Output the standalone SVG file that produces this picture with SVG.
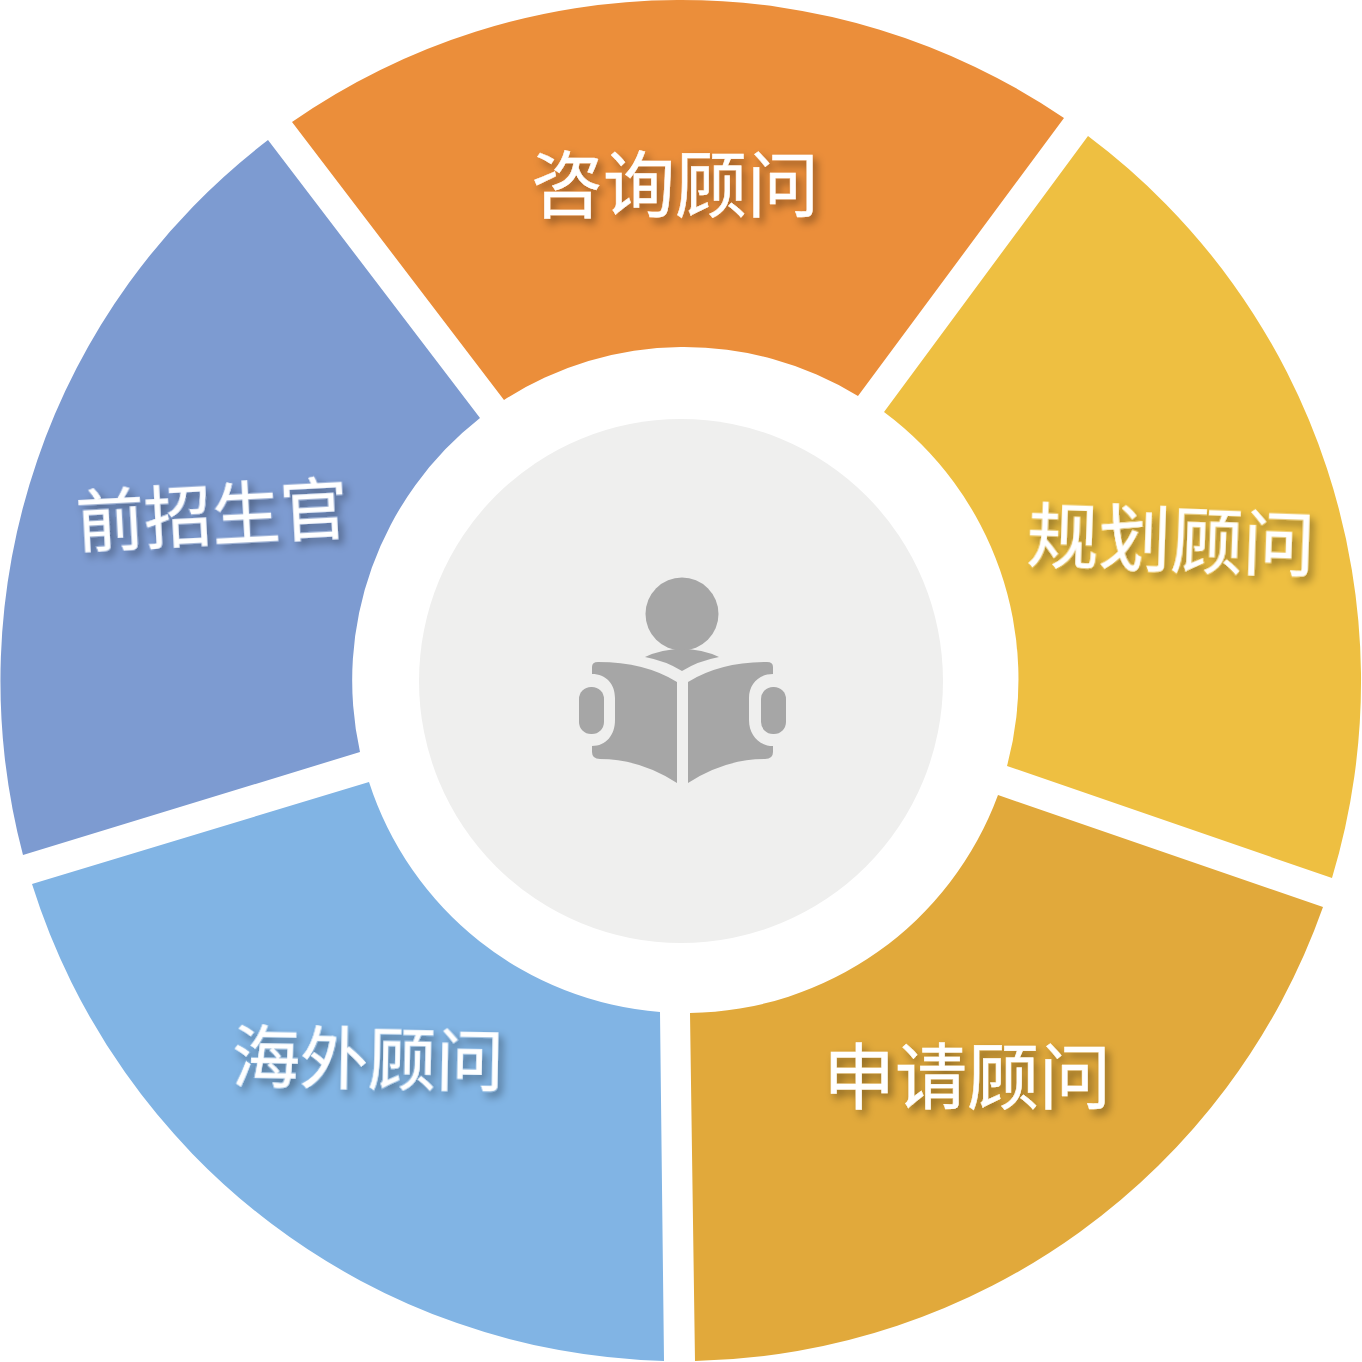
<svg xmlns="http://www.w3.org/2000/svg" width="1362" height="1362" viewBox="0 0 1362 1362">
<defs>
<style>
.label{font-family:"Noto Sans CJK SC","Noto Sans",sans-serif;fill:#fff;stroke:#fff;stroke-width:.5px;text-anchor:middle;filter:url(#sh)}
.large{font-size:72px}
.small{font-size:68px}
.icon{fill:#a6a6a6}
</style>
<filter id="sh" x="-10%" y="-30%" width="120%" height="160%">
<feDropShadow dx="4" dy="5" stdDeviation="4" flood-color="#000" flood-opacity="0.4"/>
</filter>
</defs>
<rect width="1362" height="1362" fill="#fff"/>
<g id="seg-consult"><path fill="#eb8e3a" d="M292 122A681 681 0 0 1 1064 118L858 396A333 333 0 0 0 504 400Z"/><text class="label large" x="675" y="211">咨询顾问</text></g>
<g id="seg-plan"><path fill="#eebf41" d="M1088 136A681 681 0 0 1 1332 878L1007 766A333 333 0 0 0 884 412Z"/><text class="label large" x="1171" y="566" transform="rotate(2 1171 540)">规划顾问</text></g>
<g id="seg-apply"><path fill="#e1a93b" d="M1323 907A681 681 0 0 1 695 1361L690 1013A333 333 0 0 0 998 795Z"/><text class="label large" x="967" y="1103">申请顾问</text></g>
<g id="seg-overseas"><path fill="#81b4e4" d="M664 1361A681 681 0 0 1 32 884L369 782A333 333 0 0 0 660 1012Z"/><text class="label small" x="368" y="1084" transform="rotate(1 368 1060)">海外顾问</text></g>
<g id="seg-admission"><path fill="#7d9bd1" d="M23 855A681 681 0 0 1 268 140L480 418A333 333 0 0 0 360 752Z"/><text class="label small" x="212" y="540" transform="rotate(-3 212 515)">前招生官</text></g>
<g id="center">
<circle cx="681" cy="681" r="262" fill="#efefee"/>
<circle class="icon" cx="682" cy="614" r="36.500"/>
<path class="icon" d="M645 657Q662 649 682 649Q702 649 719 657Q698 661 682 671Q666 661 645 657Z"/>
<path class="icon" d="M592 667Q592 662 598 662Q645 662 677 682V783Q640 759 600 759Q592 759 592 752V746C606 746 615 735 615 720V698C615 684 606 674 592 674Z"/>
<path class="icon" d="M688 682Q720 662 767 662Q773 662 773 667V674C759 674 749 684 749 698V720C749 735 759 746 773 746V752Q773 759 765 759Q725 759 688 783Z"/>
<rect class="icon" x="579" y="687" width="25" height="47" rx="12"/>
<rect class="icon" x="761" y="687" width="25" height="47" rx="12"/>
</g>
<g id="connectors"/>
</svg>
